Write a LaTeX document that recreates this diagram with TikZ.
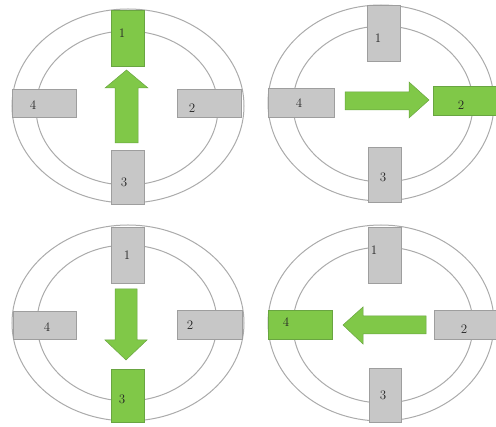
\documentclass[tikz,border=0pt]{standalone}
\begin{document}
\begin{tikzpicture}[x=1pt,y=-1pt,
  ring/.style={draw=black!33,line width=1pt},
  gbox/.style={draw=black!38,fill=black!22,line width=0.5pt},
  hbox/.style={draw=grnd,fill=grn,line width=0.5pt},
  arr/.style={fill=grn,draw=grnd,line width=0.5pt},
  num/.style={font=\fontsize{13}{13}\selectfont,text=black!85,inner sep=0pt}]
\definecolor{grn}{RGB}{128,200,72}
\definecolor{grnd}{RGB}{105,165,65}
\useasboundingbox (0,0) rectangle (496,427);
% ---------- panel 1 ----------
\draw[ring] (128,106) ellipse [x radius=116,y radius=97];
\draw[ring] (127,108) ellipse [x radius=91,y radius=77];
\path[hbox] (111,10) rectangle (144,66) node[midway] (a1) {};
\path[gbox] (12,89) rectangle (76,117) node[midway] (a4) {};
\path[gbox] (177,89) rectangle (241,117) node[midway] (a2) {};
\path[gbox] (111,150) rectangle (144,204) node[midway] (a3) {};
\path[arr] (115,143) -- (115,88) -- (105,88) -- (126.5,70) -- (148,88) -- (138,88) -- (138,143) -- cycle;
\node[num] (l1a) at (122,33) {1};
\node[num] (l4a) at (33,105) {4};
\node[num] (l2a) at (192,108) {2};
\node[num] (l3a) at (124,182) {3};
% ---------- panel 2 ----------
\draw[ring] (381,103) ellipse [x radius=113,y radius=98];
\draw[ring] (383,104) ellipse [x radius=90,y radius=78];
\path[gbox] (367,5) rectangle (400,61) node[midway] (b1) {};
\path[gbox] (268,88) rectangle (334,117) node[midway] (b4) {};
\path[hbox] (433,86) rectangle (496,115) node[midway] (b2) {};
\path[gbox] (368,147) rectangle (401,202) node[midway] (b3) {};
\path[arr] (345,92) -- (409,92) -- (409,82) -- (429,100) -- (409,118) -- (409,110) -- (345,110) -- cycle;
\node[num] (l1b) at (378,38) {1};
\node[num] (l4b) at (299,103) {4};
\node[num] (l2b) at (461,105) {2};
\node[num] (l3b) at (383,177) {3};
% ---------- panel 3 ----------
\draw[ring] (128,323) ellipse [x radius=116,y radius=98];
\draw[ring] (127,323) ellipse [x radius=90,y radius=78];
\path[gbox] (111,227) rectangle (144,283) node[midway] (c1) {};
\path[gbox] (13,311) rectangle (76,339) node[midway] (c4) {};
\path[gbox] (177,310) rectangle (242,339) node[midway] (c2) {};
\path[hbox] (111,369) rectangle (144,422) node[midway] (c3) {};
\path[arr] (115,289) -- (137,289) -- (137,340) -- (147,340) -- (126,360) -- (105,340) -- (115,340) -- cycle;
\node[num] (l1c) at (127,255) {1};
\node[num] (l4c) at (47,327) {4};
\node[num] (l2c) at (190,325) {2};
\node[num] (l3c) at (122,399) {3};
% ---------- panel 4 ----------
\draw[ring] (381,323) ellipse [x radius=113,y radius=98];
\draw[ring] (383,325) ellipse [x radius=90,y radius=78];
\path[gbox] (368,227) rectangle (401,283) node[midway] (d1) {};
\path[hbox] (268,310) rectangle (332,339) node[midway] (d4) {};
\path[gbox] (434,310) rectangle (496,339) node[midway] (d2) {};
\path[gbox] (369,368) rectangle (401,422) node[midway] (d3) {};
\path[arr] (426,316) -- (426,334) -- (363,334) -- (363,344) -- (343,325) -- (363,307) -- (363,316) -- cycle;
\node[num] (l1d) at (374,250) {1};
\node[num] (l4d) at (286,322) {4};
\node[num] (l2d) at (464,329) {2};
\node[num] (l3d) at (383,395) {3};
\end{tikzpicture}
\end{document}
